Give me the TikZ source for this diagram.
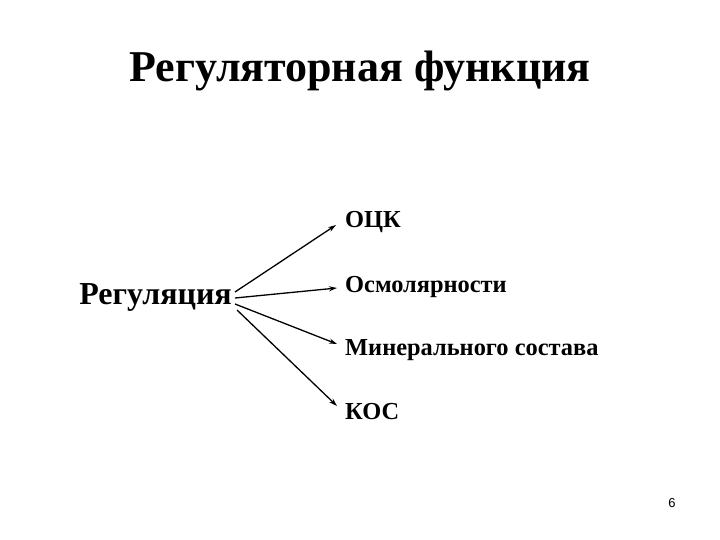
\documentclass[tikz,border=0pt]{standalone}
\usepackage{fontspec}
\setmainfont{Liberation Serif}
\setsansfont{Liberation Sans}
\usetikzlibrary{arrows.meta}
\begin{document}
\begin{tikzpicture}[x=1pt,y=-1pt,
  lbl/.style={anchor=west,inner sep=0pt,font=\fontsize{24.4}{27}\selectfont\bfseries},
  arr/.style={line width=1.3pt,-{Stealth[length=8pt,width=5pt]}}]
\useasboundingbox (0,0) rectangle (720,540);
\node[inner sep=0pt,font=\fontsize{44}{48}\selectfont\bfseries] (title) at (360,71) {Регуляторная функция};
\node[inner sep=0pt,anchor=east,font=\fontsize{32}{36}\selectfont\bfseries] (reg) at (232,297) {Регуляция};
\node[lbl] (ock) at (345,222) {ОЦК};
\node[lbl] (osm) at (345,287) {Осмолярности};
\node[lbl] (min) at (345,350) {Минерального состава};
\node[lbl] (kos) at (345,412) {КОС};
\node[inner sep=0pt,font=\sffamily\fontsize{13}{15}\selectfont] (num) at (672,503) {6};
\coordinate (s1) at (235,292);
\coordinate (s2) at (235,298);
\coordinate (s3) at (235,304);
\coordinate (s4) at (237,310);
\coordinate (e1) at (336,225);
\coordinate (e2) at (337,288);
\coordinate (e3) at (337,344);
\coordinate (e4) at (337,406);
\draw[arr] (s1) -- (e1);
\draw[arr] (s2) -- (e2);
\draw[arr] (s3) -- (e3);
\draw[arr] (s4) -- (e4);
\end{tikzpicture}
\end{document}
